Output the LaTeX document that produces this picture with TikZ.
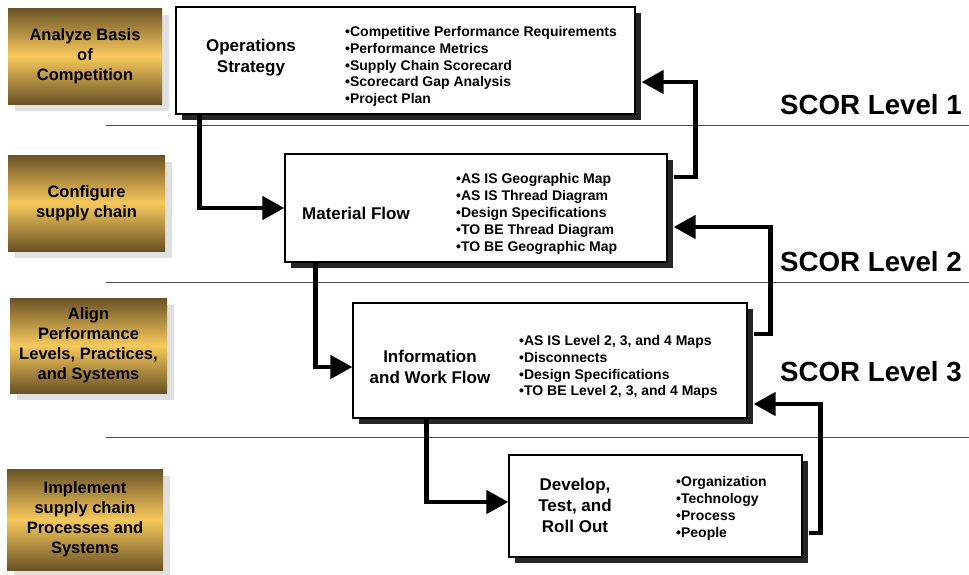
\documentclass[tikz,border=0pt]{standalone}
\usepackage{fontspec}
\setmainfont{Liberation Sans}
\usetikzlibrary{arrows.meta,shadows}

\definecolor{golddark}{HTML}{6A5226}
\definecolor{goldlight}{HTML}{F7C95C}

\tikzset{
  gold/.style={top color=golddark, bottom color=golddark, middle color=goldlight,
    align=center, inner sep=0pt, font=\fontsize{16.5}{20}\selectfont\bfseries,
    drop shadow={shadow xshift=7pt, shadow yshift=-7pt, fill=black!12, opacity=1}},
  stage/.style={draw, line width=1.2pt, fill=white,
    drop shadow={shadow xshift=6pt, shadow yshift=-6pt, fill=black!85, opacity=1}},
  boxtitle/.style={align=center, font=\fontsize{17}{21}\selectfont\bfseries},
  items/.style={align=left, anchor=west, inner sep=0pt, font=\fontsize{14}{16.8}\selectfont\bfseries},
  flow/.style={line width=4.5pt, -{Triangle[length=22pt,width=23pt]}},
  scorlevel/.style={anchor=east, inner sep=0pt, font=\fontsize{27.7}{30}\selectfont\bfseries},
  divider/.style={line width=1pt, black!70}
}

\begin{document}
\begin{tikzpicture}[x=1pt,y=-1pt]
  \useasboundingbox (0,0) rectangle (969,574);
  % level dividers
  \draw[divider] (106,125) -- (969,125);
  \draw[divider] (106,282) -- (969,282);
  \draw[divider] (106,437) -- (969,437);
  % left column
  \node[gold, minimum width=154pt, minimum height=96pt] (basis) at (85,56) {Analyze Basis\\of\\Competition};
  \node[gold, minimum width=157pt, minimum height=96pt] (config) at (86.5,203) {Configure\\supply chain};
  \node[gold, minimum width=157pt, minimum height=95pt] (align) at (88.5,345.5) {Align\\Performance\\Levels, Practices,\\and Systems};
  \node[gold, minimum width=156pt, minimum height=101pt] (implement) at (85,519.5) {Implement\\supply chain\\Processes and\\Systems};
  % stage boxes
  \node[stage, minimum width=459pt, minimum height=107pt] (ops) at (405.5,60.5) {};
  \node[boxtitle] at (251,57.5) {Operations\\Strategy};
  \node[items] at (345,66.5) {•Competitive Performance Requirements\\•Performance Metrics\\•Supply Chain Scorecard\\•Scorecard Gap Analysis\\•Project Plan};

  \node[stage, minimum width=382pt, minimum height=108pt] (mf) at (476,208) {};
  \node[boxtitle] at (356,213) {Material Flow};
  \node[items] at (456,214) {•AS IS Geographic Map\\•AS IS Thread Diagram\\•Design Specifications\\•TO BE Thread Diagram\\•TO BE Geographic Map};

  \node[stage, minimum width=394pt, minimum height=115pt] (iw) at (550,360.5) {};
  \node[boxtitle] at (430,367) {Information\\and Work Flow};
  \node[items] at (519,367) {•AS IS Level 2, 3, and 4 Maps\\•Disconnects\\•Design Specifications\\•TO BE Level 2, 3, and 4 Maps};

  \node[stage, minimum width=293pt, minimum height=102pt] (dev) at (655.5,506) {};
  \node[boxtitle] at (575,505) {Develop,\\Test, and\\Roll Out};
  \node[items] at (676,508.5) {•Organization\\•Technology\\•Process\\•People};
  % level labels
  \node[scorlevel] (lv1) at (962,105) {SCOR Level 1};
  \node[scorlevel] (lv2) at (962,262) {SCOR Level 2};
  \node[scorlevel] (lv3) at (962,372) {SCOR Level 3};
  % flows down
  \draw[flow] ([xshift=24pt]ops.south west) |- (mf.west);
  \draw[flow] ([xshift=31pt]mf.south west) |- ([yshift=-6.5pt]iw.west);
  \draw[flow] ([xshift=74pt]iw.south west) |- ([yshift=4pt]dev.west);
  % flows back up
  \draw[flow] ([xshift=6pt,yshift=31pt]mf.east) -- ++(22,0) |- ([xshift=6pt,yshift=-21.5pt]ops.east);
  \draw[flow] ([xshift=6pt,yshift=26.5pt]iw.east) -- ++(17,0) |- ([xshift=6pt,yshift=-19pt]mf.east);
  \draw[flow] ([xshift=6pt,yshift=-27pt]dev.east) -- ++(12,0) |- ([xshift=6pt,yshift=-43.5pt]iw.east);
\end{tikzpicture}
\end{document}
